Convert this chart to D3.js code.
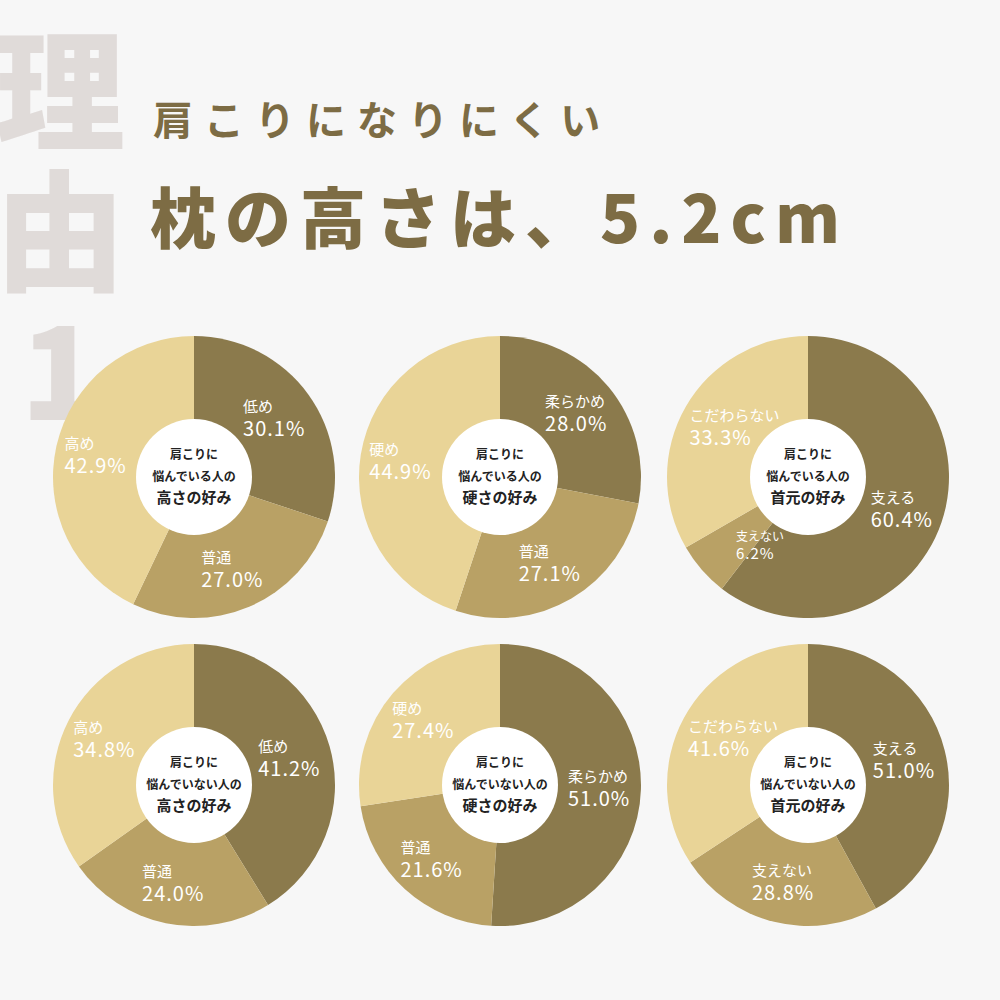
<!DOCTYPE html>
<html><head><meta charset="utf-8">
<script src="https://cdn.jsdelivr.net/npm/d3@7"></script>
<style>body{margin:0;background:#f7f7f7}text{font-family:"Noto Sans CJK JP","Noto Sans",sans-serif}</style>
</head><body>
<svg id="c" width="1000" height="1000"></svg>
<script>
// 各円グラフのデータ（時計回り、上から）
const labels1 = ["低め", "普通", "高め"];
const labels2 = ["柔らかめ", "普通", "硬め"];
const labels3 = ["支える", "支えない", "こだわらない"];
const values1 = [30.1, 27.0, 42.9];
const values2 = [28.0, 27.1, 44.9];
const values3 = [60.4, 6.2, 33.3];
const values4 = [41.2, 24.0, 34.8];
const values5 = [51.0, 21.6, 27.4];
const values6 = [51.0, 28.8, 41.6];
const centerTexts = [
  ["肩こりに", "悩んでいる人の", "高さの好み"],
  ["肩こりに", "悩んでいる人の", "硬さの好み"],
  ["肩こりに", "悩んでいる人の", "首元の好み"],
  ["肩こりに", "悩んでいない人の", "高さの好み"],
  ["肩こりに", "悩んでいない人の", "硬さの好み"],
  ["肩こりに", "悩んでいない人の", "首元の好み"]
];
const colors = ["#8b7a4c", "#b9a165", "#e9d497"];

const svg = d3.select("#c");
svg.append("rect").attr("width", 1000).attr("height", 1000).attr("fill", "#f7f7f7");

// 背景の「理由1」
["理", "由", "1"].forEach(function(t, i) {
  svg.append("text").attr("x", 60).attr("y", 140 + i * 140)
    .attr("text-anchor", "middle").attr("font-size", 130).attr("font-weight", 900)
    .attr("fill", "#e0dbd9").text(t);
});

// タイトル
svg.append("text").attr("x", 153).attr("y", 135).attr("font-size", 40).attr("font-weight", 700)
  .attr("fill", "#7d6c44").attr("letter-spacing", 11).text("肩こりになりにくい");
svg.append("text").attr("x", 150).attr("y", 243).attr("font-size", 66).attr("font-weight", 900)
  .attr("fill", "#7d6c44").attr("letter-spacing", 9).text("枕の高さは、5.2cm");

const charts = [
  {labels: labels1, values: values1, cx: 194, cy: 477},
  {labels: labels2, values: values2, cx: 500, cy: 477},
  {labels: labels3, values: values3, cx: 808, cy: 477},
  {labels: labels1, values: values4, cx: 194, cy: 785},
  {labels: labels2, values: values5, cx: 500, cy: 785},
  {labels: labels3, values: values6, cx: 808, cy: 785}
];

const pie = d3.pie().sort(null);
const arc = d3.arc().innerRadius(0).outerRadius(141);
const labelArc = d3.arc().innerRadius(100).outerRadius(100);

charts.forEach(function(c, ci) {
  const g = svg.append("g").attr("transform", "translate(" + c.cx + "," + c.cy + ")");
  const arcs = pie(c.values);
  g.selectAll("path").data(arcs).enter().append("path")
    .attr("d", arc).attr("fill", function(d, i) { return colors[i]; });
  arcs.forEach(function(d, i) {
    const p = labelArc.centroid(d);
    const small = c.values[i] < 10;
    if (small) { p[0] = -72; p[1] = 70; }
    const t = g.append("text").attr("fill", "#fff").attr("text-anchor", "start");
    const x = p[0] - (small ? 0 : 32);
    t.append("tspan").attr("x", x).attr("y", p[1] - 6)
      .attr("font-size", small ? 12 : 15).text(c.labels[i]);
    t.append("tspan").attr("x", x).attr("y", p[1] + (small ? 12 : 18))
      .attr("font-size", small ? 15 : 20).attr("letter-spacing", 1).text(c.values[i].toFixed(1) + "%");
  });
  g.append("circle").attr("r", 58).attr("fill", "#fff");
  const lines = centerTexts[ci];
  lines.forEach(function(s, li) {
    g.append("text").attr("y", -18 + li * 22).attr("text-anchor", "middle")
      .attr("font-size", li === 2 ? 15 : 12).attr("font-weight", 700).attr("fill", "#222").text(s);
  });
});
</script>
</body></html>
